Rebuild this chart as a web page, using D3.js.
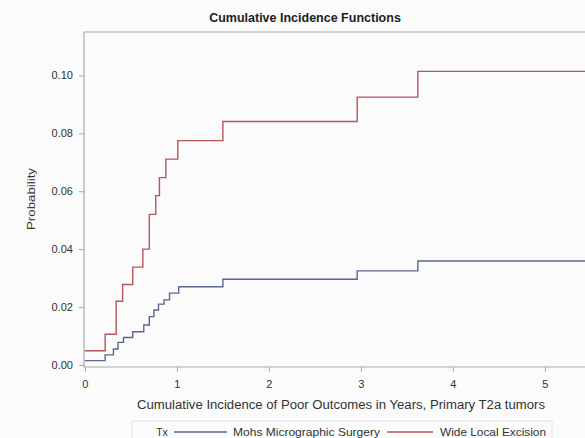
<!DOCTYPE html>
<html>
<head>
<meta charset="utf-8">
<script src="https://cdn.jsdelivr.net/npm/d3@7"></script>
<style>
  body { margin: 0; background: #fafbfa; }
  svg { display: block; font-family: "Liberation Sans", Arial, sans-serif; }
</style>
</head>
<body>
<div id="plot"></div>
<script>
// step times (years) and cumulative incidence
const mohsTimes  = [0, 0.22, 0.31, 0.36, 0.42, 0.52, 0.64, 0.70, 0.75, 0.80, 0.86, 0.92, 1.02, 1.50, 2.96, 3.62, 5.7];
const mohsValues = [0.0015, 0.0035, 0.0055, 0.0078, 0.0095, 0.0115, 0.0138, 0.0167, 0.0190, 0.0210, 0.0225, 0.0248, 0.0270, 0.0296, 0.0325, 0.0359, 0.0359];

const wleTimes  = [0, 0.22, 0.34, 0.41, 0.52, 0.63, 0.70, 0.77, 0.81, 0.88, 1.01, 1.50, 2.96, 3.62, 5.7];
const wleValues = [0.0049, 0.0106, 0.0220, 0.0278, 0.0338, 0.0400, 0.0520, 0.0585, 0.0647, 0.0711, 0.0775, 0.0841, 0.0925, 0.1014, 0.1014];

const xTicks = [0, 1, 2, 3, 4, 5];
const yTicks = [0, 0.02, 0.04, 0.06, 0.08, 0.10];
const seriesNames = ['Mohs Micrographic Surgery', 'Wide Local Excision'];
const seriesColors = ['#5b6791', '#b5575a'];

let width = 585, height = 438;
let margin = {top: 32, right: -15, bottom: 71, left: 84};

let svg = d3.select('#plot').append('svg')
    .attr('width', width)
    .attr('height', height);

let xs = d3.scaleLinear()
    .domain([-0.01, 5.6])
    .range([margin.left, width - margin.right]);
let ys = d3.scaleLinear()
    .domain([-0.0007, 0.115])
    .range([height - margin.bottom, margin.top]);

// title
svg.append('text')
    .attr('x', 305)
    .attr('y', 22)
    .style('text-anchor', 'middle')
    .style('font-weight', 'bold')
    .style('font-size', '12.5px')
    .style('fill', '#222')
    .text('Cumulative Incidence Functions');

// frame
svg.append('path')
    .attr('d', 'M' + (width + 20) + ',' + margin.top + 'H' + margin.left + 'V' + (height - margin.bottom) + 'H' + (width + 20))
    .style('fill', 'none')
    .style('stroke', '#a9abaa')
    .style('stroke-width', '1.2px');

let xAxis = d3.axisBottom(xs).tickValues(xTicks).tickFormat(d3.format('d')).tickSize(5).tickSizeOuter(0);
let yAxis = d3.axisLeft(ys).tickValues(yTicks).tickFormat(d3.format('.2f')).tickSize(5).tickSizeOuter(0);

let gx = svg.append('g')
    .attr('transform', 'translate(0,' + (height - margin.bottom) + ')')
    .call(xAxis);
let gy = svg.append('g')
    .attr('transform', 'translate(' + margin.left + ',0)')
    .call(yAxis);

[gx, gy].forEach(g => {
    g.select('.domain').remove();
    g.selectAll('line').style('stroke', '#a9abaa');
    g.selectAll('text').style('fill', '#333').style('font-size', '11px')
        .style('font-family', '"Liberation Sans", Arial, sans-serif');
});
gx.selectAll('text').attr('dy', '1.15em');
gy.selectAll('text').attr('x', -11);

svg.append('text')
    .attr('x', 341)
    .attr('y', 409)
    .attr('textLength', 408)
    .attr('lengthAdjust', 'spacingAndGlyphs')
    .style('text-anchor', 'middle')
    .style('font-size', '12px')
    .style('fill', '#333')
    .text('Cumulative Incidence of Poor Outcomes in Years, Primary T2a tumors');

svg.append('text')
    .attr('transform', 'translate(35,' + 199 + ') rotate(-90)')
    .attr('textLength', 62)
    .attr('lengthAdjust', 'spacingAndGlyphs')
    .style('text-anchor', 'middle')
    .style('font-size', '11.5px')
    .style('fill', '#333')
    .text('Probability');

// step curves
let line = d3.line()
    .x(d => xs(d[0]))
    .y(d => ys(d[1]))
    .curve(d3.curveStepAfter);

svg.append('clipPath').attr('id', 'clip')
    .append('rect')
    .attr('x', margin.left).attr('y', margin.top)
    .attr('width', width - margin.left).attr('height', height - margin.top - margin.bottom);

let curves = [
    d3.zip(mohsTimes, mohsValues),
    d3.zip(wleTimes, wleValues)
];
svg.append('g').attr('clip-path', 'url(#clip)')
    .selectAll('path')
    .data(curves)
    .enter()
    .append('path')
    .attr('d', line)
    .style('fill', 'none')
    .style('stroke', (d, i) => seriesColors[i])
    .style('stroke-width', '1.4px');

// legend
let legend = svg.append('g').attr('transform', 'translate(0,432)');
legend.append('rect')
    .attr('x', 132).attr('y', -11)
    .attr('width', 420).attr('height', 20)
    .style('fill', 'none')
    .style('stroke', '#e2e3e2');
legend.append('text')
    .attr('x', 162).attr('y', 4)
    .style('text-anchor', 'middle')
    .style('font-size', '10.5px')
    .style('fill', '#333')
    .text('Tx');

let legendX = [[174, 227, 233, 147], [387, 433, 440, 106]];
seriesNames.forEach((name, i) => {
    legend.append('line')
        .attr('x1', legendX[i][0]).attr('x2', legendX[i][1])
        .attr('y1', 0).attr('y2', 0)
        .style('stroke', seriesColors[i])
        .style('stroke-width', '1.4px');
    legend.append('text')
        .attr('x', legendX[i][2]).attr('y', 4)
        .attr('textLength', legendX[i][3])
        .attr('lengthAdjust', 'spacingAndGlyphs')
        .style('font-size', '10.5px')
        .style('fill', '#333')
        .text(name);
});
</script>
</body>
</html>
